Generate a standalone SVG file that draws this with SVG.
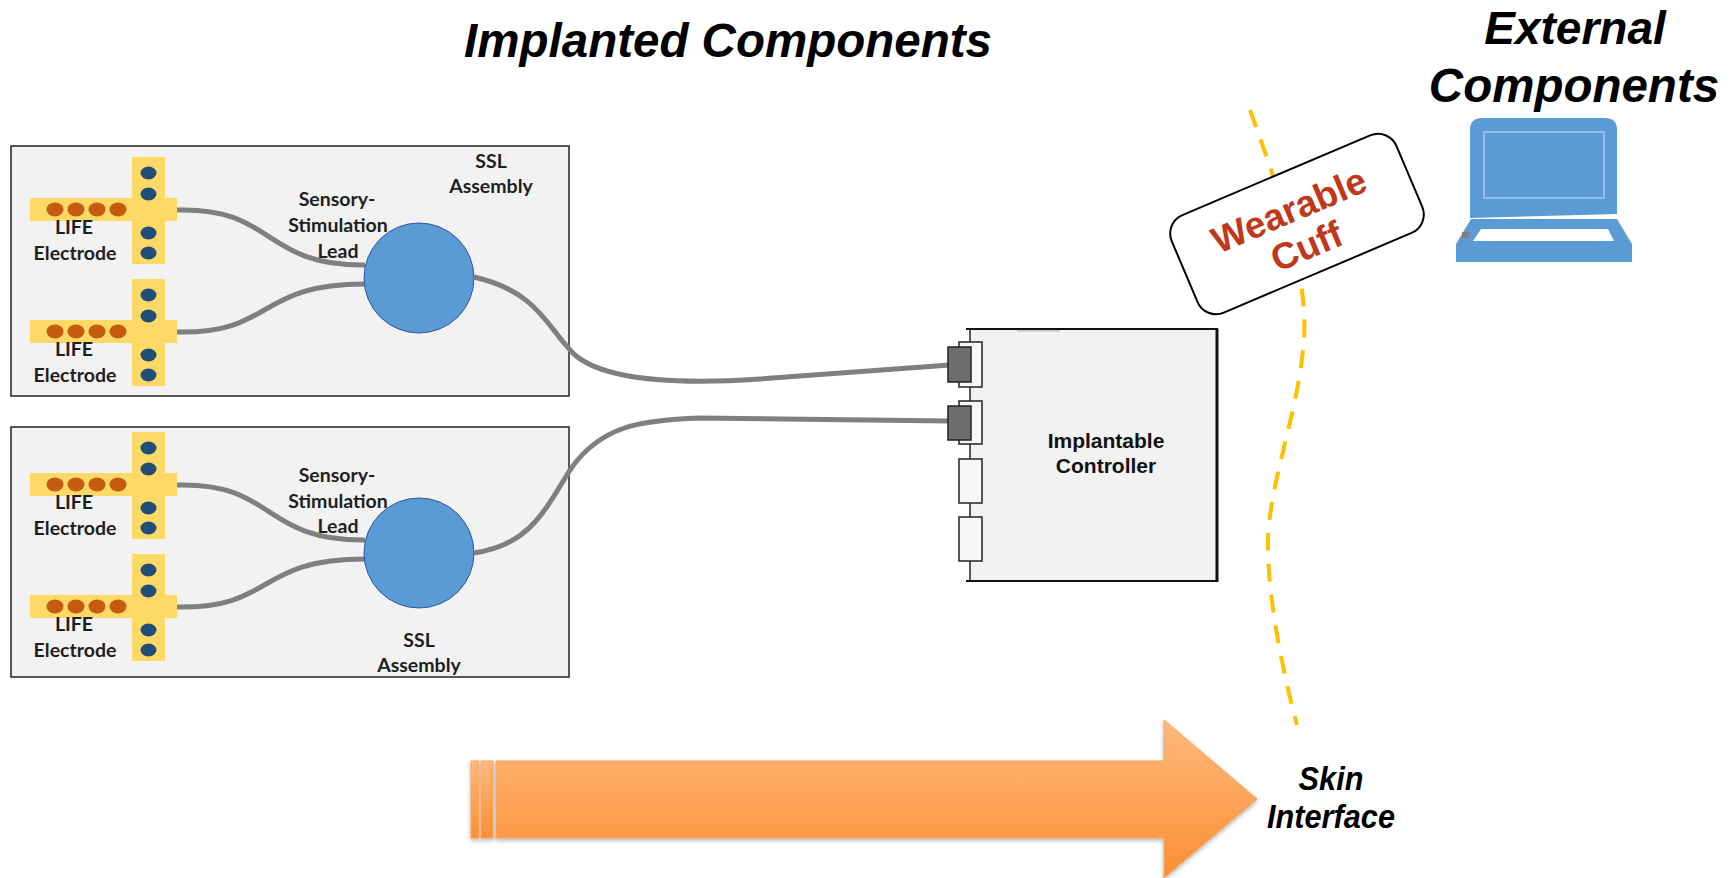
<svg xmlns="http://www.w3.org/2000/svg" width="1735" height="878" viewBox="0 0 1735 878">
  <style>
    .title { font-family: "Liberation Sans", Arial, sans-serif; font-weight: bold; font-style: italic; fill: #000; text-anchor: middle; }
    .lbl { font-family: Lato, "Open Sans", sans-serif; font-weight: bold; font-size: 19.5px; fill: #1e1e1e; text-anchor: middle; }
    .ctl { font-family: "Liberation Sans", Arial, sans-serif; font-weight: bold; font-size: 21px; fill: #111; text-anchor: middle; }
    .panel { fill: #f2f2f2; stroke: #222; stroke-width: 1.5; }
    .bar { fill: #ffd966; }
    .odot { fill: #c55a11; }
    .bdot { fill: #1f4e79; }
    .lead { fill: none; stroke: #7f7f7f; stroke-width: 5; stroke-linecap: butt; }
    .hub { fill: #5b9bd5; stroke: #2f5597; stroke-width: 1; }
    .port { fill: #f7f7f7; stroke: #222; stroke-width: 1.5; }
    .plug { fill: #6d6d6d; stroke: #222; stroke-width: 1.5; }
  </style>
  <defs>
    <linearGradient id="arrowFill" x1="0" y1="0" x2="0" y2="1">
      <stop offset="0" stop-color="#ffb97c"/>
      <stop offset="1" stop-color="#fb8f35"/>
    </linearGradient>
    <filter id="soft" x="-5%" y="-20%" width="110%" height="150%">
      <feDropShadow dx="0" dy="2" stdDeviation="2" flood-color="#000" flood-opacity="0.3"/>
    </filter>
    <!-- one LIFE electrode: cross-shaped carrier with contact sites -->
    <g id="electrode">
      <rect class="bar" x="30" y="0" width="147" height="23"/>
      <rect class="bar" x="132" y="-41" width="33" height="107"/>
      <ellipse class="odot" cx="55" cy="11.5" rx="8.5" ry="7"/>
      <ellipse class="odot" cx="76" cy="11.5" rx="8.5" ry="7"/>
      <ellipse class="odot" cx="97" cy="11.5" rx="8.5" ry="7"/>
      <ellipse class="odot" cx="118" cy="11.5" rx="8.5" ry="7"/>
      <ellipse class="bdot" cx="148.5" cy="-25" rx="8" ry="6.5"/>
      <ellipse class="bdot" cx="148.5" cy="-4" rx="8" ry="6.5"/>
      <ellipse class="bdot" cx="148.5" cy="35" rx="8" ry="6.5"/>
      <ellipse class="bdot" cx="148.5" cy="55" rx="8" ry="6.5"/>
      <text class="lbl" x="74" y="36">LIFE</text>
      <text class="lbl" x="75" y="62">Electrode</text>
    </g>
  </defs>

  <rect width="1735" height="878" fill="#fff"/>

  <!-- headings -->
  <text class="title" x="728" y="57" font-size="47.5">Implanted Components</text>
  <text class="title" x="1575" y="44" font-size="46">External</text>
  <text class="title" x="1574" y="102" font-size="47.5">Components</text>

  <!-- upper SSL assembly -->
  <g id="ssl-upper">
    <rect class="panel" x="11" y="146" width="558" height="250"/>
    <use href="#electrode" y="198"/>
    <use href="#electrode" y="320"/>
    <path class="lead" d="M177,210 C275,207 262,266 365,265"/>
    <path class="lead" d="M177,332 C275,334 255,284 365,284"/>
    <circle class="hub" cx="419" cy="278" r="55"/>
    <text class="lbl" x="337" y="206">Sensory-</text>
    <text class="lbl" x="338" y="232">Stimulation</text>
    <text class="lbl" x="338" y="258">Lead</text>
    <text class="lbl" x="491" y="168">SSL</text>
    <text class="lbl" x="491" y="193">Assembly</text>
  </g>

  <!-- lower SSL assembly -->
  <g id="ssl-lower">
    <rect class="panel" x="11" y="427" width="558" height="250"/>
    <use href="#electrode" y="473"/>
    <use href="#electrode" y="595"/>
    <path class="lead" d="M177,485 C275,482 262,541 365,540"/>
    <path class="lead" d="M177,607 C275,609 255,559 365,559"/>
    <circle class="hub" cx="419" cy="553" r="55"/>
    <text class="lbl" x="337" y="482">Sensory-</text>
    <text class="lbl" x="338" y="508">Stimulation</text>
    <text class="lbl" x="338" y="533">Lead</text>
    <text class="lbl" x="419" y="647">SSL</text>
    <text class="lbl" x="419" y="672">Assembly</text>
  </g>

  <!-- skin line (dashed) -->
  <path d="M1250,110 C1290,220 1310,290 1303,350 C1296,420 1270,480 1268,540 C1267,600 1285,680 1297,725" fill="none" stroke="#ffc000" stroke-width="4" stroke-dasharray="18 13"/>

  <!-- implantable controller -->
  <g id="controller">
    <rect x="970" y="329" width="247" height="252" fill="#f2f2f2"/>
    <line x1="966" y1="329" x2="1218" y2="329" stroke="#111" stroke-width="2"/>
    <line x1="1017" y1="331" x2="1060" y2="331" stroke="#aaa" stroke-width="1"/>
    <line x1="966" y1="581" x2="1218" y2="581" stroke="#111" stroke-width="2"/>
    <line x1="1217" y1="329" x2="1217" y2="582" stroke="#111" stroke-width="3"/>
    <line x1="970" y1="329" x2="970" y2="581" stroke="#222" stroke-width="1.5"/>
    <rect class="port" x="959" y="342" width="23" height="45"/>
    <rect class="port" x="959" y="401" width="23" height="43"/>
    <rect class="port" x="959" y="459" width="23" height="44"/>
    <rect class="port" x="959" y="517" width="23" height="44"/>
    <text class="ctl" x="1106" y="448">Implantable</text>
    <text class="ctl" x="1106" y="473">Controller</text>
  </g>

  <!-- connectors: SSL assemblies to controller -->
  <g id="connectors">
    <path class="lead" d="M474,277 C540,292 548,330 575,355 C610,385 700,383 760,379 L950,365"/>
    <path class="lead" d="M474,553 C530,545 545,510 570,470 C600,426 640,420 700,418 L950,421"/>
    <rect class="plug" x="948" y="347" width="23" height="35"/>
    <rect class="plug" x="948" y="406" width="23" height="34"/>
  </g>

  <!-- wearable cuff -->
  <g id="cuff" transform="translate(1297,224) rotate(-23)">
    <rect x="-122" y="-53" width="244" height="106" rx="20" fill="#fff" stroke="#000" stroke-width="2"/>
    <text x="-2" y="-3" font-family="Liberation Sans, Arial, sans-serif" font-weight="bold" font-size="37" fill="#c0381a" text-anchor="middle">Wearable</text>
    <text x="0" y="37" font-family="Liberation Sans, Arial, sans-serif" font-weight="bold" font-size="37" fill="#c0381a" text-anchor="middle">Cuff</text>
  </g>

  <!-- laptop -->
  <g id="laptop">
    <path d="M1470,218 L1470,130 Q1470,118 1482,118 L1605,118 Q1617,118 1617,130 L1617,214 Z" fill="#5b9bd5"/>
    <rect x="1484" y="132" width="120" height="66" fill="none" stroke="#a8c8ea" stroke-width="1.5"/>
    <path d="M1471,219 L1617,219 L1632,244 L1632,262 L1456,262 L1456,244 Z" fill="#5b9bd5"/>
    <path d="M1481,229 L1608,229 L1614,241 L1473,241 Z" fill="#fff"/>
    <rect x="1462" y="232" width="7" height="6" fill="#7f7f7f"/>
  </g>

  <!-- direction arrow toward the skin -->
  <g id="arrow" filter="url(#soft)">
    <rect x="471" y="761" width="8" height="77" fill="url(#arrowFill)" stroke="#f7a35c" stroke-width="1"/>
    <rect x="481" y="761" width="12" height="77" fill="url(#arrowFill)" stroke="#f7a35c" stroke-width="1"/>
    <path d="M496,761 L1164,761 L1164,720 L1257,799 L1164,878 L1164,838 L496,838 Z" fill="url(#arrowFill)" stroke="#f7a35c" stroke-width="1"/>
  </g>

  <g id="skin-label" font-family="Liberation Sans, Arial, sans-serif" font-weight="bold" font-style="italic" font-size="33" fill="#000" text-anchor="middle">
    <text transform="translate(1331,790) scale(0.93,1)">Skin</text>
    <text transform="translate(1331,828) scale(0.93,1)">Interface</text>
  </g>
</svg>
